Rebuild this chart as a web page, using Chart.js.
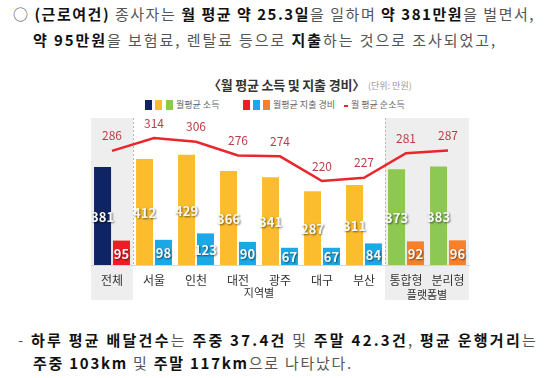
<!DOCTYPE html>
<html><head><meta charset="utf-8">
<script src="https://cdn.jsdelivr.net/npm/chart.js@4/dist/chart.umd.min.js"></script>
<style>
body{margin:0;width:553px;height:378px;background:#fff;position:relative;overflow:hidden;font-family:"Noto Sans CJK KR",sans-serif;}
.t{position:absolute;white-space:nowrap;font-size:15px;line-height:20px;color:#555;}
.t b{color:#111;font-weight:700;}
.title{position:absolute;white-space:nowrap;font-size:13px;font-weight:700;color:#333;line-height:18px;letter-spacing:-0.2px;}
.unit{position:absolute;white-space:nowrap;font-size:9px;color:#999;line-height:12px;}
.lg{position:absolute;white-space:nowrap;font-size:9px;color:#666;line-height:12px;}
.sq{position:absolute;width:7px;height:10px;}
#wrap{position:absolute;left:0;top:110px;width:553px;height:200px;}
</style></head><body>
<div class="t" style="left:13px;top:4px" data-w="522">○ <b>(근로여건)</b> 종사자는 <b>월 평균 약 25.3일</b>을 일하며 <b>약 381만원</b>을 벌면서,</div>
<div class="t" style="left:33px;top:30px" data-w="464"><b>약 95만원</b>을 보험료, 렌탈료 등으로 <b>지출</b>하는 것으로 조사되었고,</div>
<div class="title" style="left:208px;top:76px">〈월 평균 소득 및 지출 경비〉</div>
<div class="unit" style="left:368px;top:80px">(단위: 만원)</div>
<div class="sq" style="left:145px;top:100px;background:#0f2463"></div>
<div class="sq" style="left:155px;top:100px;background:#fbbd2e"></div>
<div class="sq" style="left:166px;top:100px;background:#8dc853"></div>
<div class="lg" style="left:176px;top:99px">월평균 소득</div>
<div class="sq" style="left:243px;top:100px;background:#ee1c25"></div>
<div class="sq" style="left:253px;top:100px;background:#1ba8e6"></div>
<div class="sq" style="left:263px;top:100px;background:#f7812b"></div>
<div class="lg" style="left:273px;top:99px">월평균 지출 경비</div>
<div style="position:absolute;left:344px;top:105px;width:4px;height:2px;background:#e8262b"></div>
<div class="lg" style="left:351px;top:99px">월 평균 순소득</div>
<div id="wrap"><canvas id="c" width="553" height="200"></canvas></div>
<div class="t" style="left:18px;top:330px" data-w="520">- <b>하루 평균 배달건수</b>는 <b>주중 37.4건</b> 및 <b>주말 42.3건</b>, <b>평균 운행거리</b>는</div>
<div class="t" style="left:33px;top:353px" data-w="320"><b>주중 103km</b> 및 <b>주말 117km</b>으로 나타났다.</div>
<script>
const categories=['전체','서울','인천','대전','광주','대구','부산','통합형','분리형'];
const incomeValues=[381,412,429,366,341,287,311,373,383];
const expenseValues=[95,98,123,90,67,67,84,92,96];
const netIncomeValues=[286,314,306,276,274,220,227,281,287];
const groupTitles=['지역별','플랫폼별'];
const groupRanges=[[1,6],[7,8]];

const FONT='"Noto Sans CJK KR", sans-serif';
const C={navy:'#0f2463',yellow:'#fbbd2e',green:'#8dc853',red:'#ee1c25',blue:'#1ba8e6',orange:'#f7812b',line:'#e8262b',lineLabel:'#bb4046',band:'#eeeeee'};
const incomeColors=categories.map((_,i)=>i===0?C.navy:(i>=7?C.green:C.yellow));
const expenseColors=categories.map((_,i)=>i===0?C.red:(i>=7?C.orange:C.blue));

document.querySelectorAll('[data-w]').forEach(el=>{
  const target=+el.dataset.w;
  const n=el.textContent.length;
  const w=el.getBoundingClientRect().width;
  el.style.letterSpacing=((target-w)/n)+'px';
});

const decor={
  id:'decor',
  beforeDraw(chart){
    const {ctx,chartArea:a,scales:{x}}=chart;
    const half=(x.getPixelForValue(1)-x.getPixelForValue(0))/2;
    ctx.save();
    ctx.fillStyle=C.band;
    [[0,0],[7,8]].forEach(([s,e])=>{
      const l=x.getPixelForValue(s)-half, r=x.getPixelForValue(e)+half;
      ctx.fillRect(l,a.top,r-l,a.bottom-a.top+35);
    });
    ctx.strokeStyle='#b8b8b8';ctx.lineWidth=1;ctx.setLineDash([2,2]);
    [0,6].forEach(i=>{
      const px=Math.round(x.getPixelForValue(i)+half)+0.5;
      ctx.beginPath();ctx.moveTo(px,a.top);ctx.lineTo(px,a.bottom);ctx.stroke();
    });
    ctx.restore();
  },
  afterDraw(chart){
    const {ctx,chartArea:a,scales:{x}}=chart;
    ctx.save();
    ctx.fillStyle='#333';ctx.textAlign='center';ctx.textBaseline='middle';
    ctx.font='11px '+FONT;
    groupRanges.forEach(([s,e],k)=>{
      const cx=(x.getPixelForValue(s)+x.getPixelForValue(e))/2;
      ctx.fillText(groupTitles[k],cx,a.bottom+(k===0?28:30));
    });
    ctx.font='bold 13px '+FONT;
    [1,2].forEach(di=>{
      const meta=chart.getDatasetMeta(di);
      meta.data.forEach((b,i)=>{
        const v=chart.data.datasets[di].data[i];
        ctx.save();
        ctx.shadowColor='rgba(0,0,0,0.55)';ctx.shadowOffsetX=1;ctx.shadowOffsetY=1;ctx.shadowBlur=2;
        ctx.fillStyle='#fafafa';
        ctx.fillText(String(v),b.x,(b.y+b.base)/2+1);
        ctx.restore();
      });
    });
    ctx.font='12px '+FONT;ctx.fillStyle=C.lineLabel;
    chart.getDatasetMeta(0).data.forEach((p,i)=>{
      ctx.fillText(String(netIncomeValues[i]),p.x,p.y-15);
    });
    ctx.restore();
  }
};

new Chart(document.getElementById('c'),{
  data:{labels:categories,datasets:[
    {type:'line',label:'월 평균 순소득',data:netIncomeValues,yAxisID:'y1',borderColor:C.line,borderWidth:2.5,pointRadius:0,tension:0,order:0},
    {type:'bar',label:'월평균 소득',data:incomeValues,backgroundColor:incomeColors,yAxisID:'y',order:1,categoryPercentage:0.9,barPercentage:0.9},
    {type:'bar',label:'월평균 지출 경비',data:expenseValues,backgroundColor:expenseColors,yAxisID:'y',order:1,categoryPercentage:0.9,barPercentage:0.9}
  ]},
  options:{
    responsive:false,animation:false,devicePixelRatio:1,
    layout:{padding:{left:91,right:84,top:8,bottom:0}},
    plugins:{legend:{display:false},tooltip:{enabled:false}},
    scales:{
      x:{grid:{display:false,drawTicks:false},border:{display:true,color:'#d6d6d6'},
         ticks:{font:{size:12,family:FONT},color:'#333',padding:8},
         afterFit(s){s.height=45;}},
      y:{display:false,min:0,max:572},
      y1:{display:false,min:36,max:358}
    }
  },
  plugins:[decor]
});
</script>
</body></html>
